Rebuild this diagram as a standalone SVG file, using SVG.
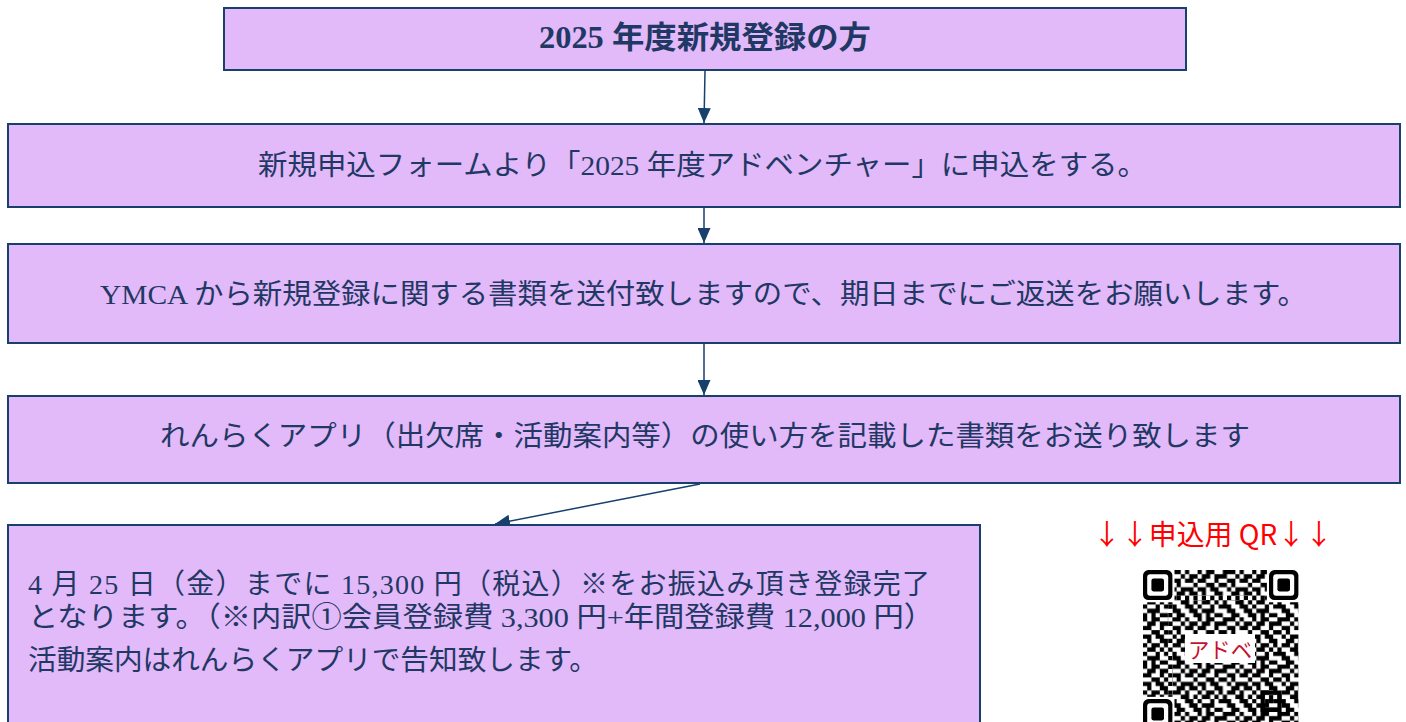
<svg xmlns="http://www.w3.org/2000/svg" width="1406" height="722" viewBox="0 0 1406 722">
<style>
.box{fill:#E2B9F9;stroke:#17406D;stroke-width:2}
.t{font-family:"Liberation Serif","Noto Sans CJK JP",serif;fill:#1F3864;font-size:28px}
.c{text-anchor:middle}
.con{stroke:#17406D;stroke-width:1.5;fill:none;marker-end:url(#ah)}
</style>
<defs>
<marker id="ah" markerUnits="userSpaceOnUse" markerWidth="15" markerHeight="13" refX="15" refY="6.5" orient="auto">
<path d="M0 0L15 6.5L0 13z" fill="#17406D"/>
</marker>
<pattern id="qrdata" patternUnits="userSpaceOnUse" width="13" height="11">
<path fill="#000" d="M0 0h1v1h-1z M2 0h2v1h-2z M6 0h3v1h-3z M10 0h1v1h-1z M1 1h2v1h-2z M4 1h3v1h-3z M9 1h1v1h-1z M11 1h2v1h-2z M0 2h2v1h-2z M4 2h1v1h-1z M7 2h2v1h-2z M10 2h2v1h-2z M2 3h2v1h-2z M5 3h2v1h-2z M8 3h1v1h-1z M12 3h1v1h-1z M0 4h2v1h-2z M3 4h2v1h-2z M7 4h1v1h-1z M9 4h3v1h-3z M1 5h1v1h-1z M4 5h2v1h-2z M8 5h2v1h-2z M11 5h2v1h-2z M0 6h1v1h-1z M2 6h2v1h-2z M5 6h1v1h-1z M7 6h2v1h-2z M10 6h1v1h-1z M1 7h2v1h-2z M4 7h1v1h-1z M6 7h1v1h-1z M9 7h2v1h-2z M12 7h1v1h-1z M0 8h1v1h-1z M3 8h1v1h-1z M5 8h3v1h-3z M10 8h2v1h-2z M1 9h3v1h-3z M7 9h2v1h-2z M11 9h2v1h-2z M0 10h1v1h-1z M2 10h1v1h-1z M4 10h2v1h-2z M8 10h2v1h-2z M12 10h1v1h-1z"/>
</pattern>
<g id="finder">
<rect x="-0.5" y="-0.5" width="8" height="8" fill="#fff"/>
<rect x="0" y="0" width="7" height="7" rx="1.3" fill="#000"/>
<rect x="1" y="1" width="5" height="5" rx="0.7" fill="#fff"/>
<rect x="2" y="2" width="3" height="3" rx="0.5" fill="#000"/>
</g>
</defs>

<g id="connectors">
<line class="con" x1="705" y1="71" x2="704" y2="123"/>
<line class="con" x1="704" y1="208" x2="704" y2="243"/>
<line class="con" x1="704" y1="344" x2="704" y2="395"/>
<line class="con" x1="700" y1="484" x2="495" y2="524"/>
</g>

<g id="n1">
<rect class="box" x="224" y="8" width="962" height="62"/>
<text class="t c" x="705" y="48" font-size="31" font-weight="bold" textLength="332" lengthAdjust="spacingAndGlyphs" style="font-size:31px">2025 年度新規登録の方</text>
</g>

<g id="n2">
<rect class="box" x="8" y="124" width="1392" height="83"/>
<text class="t" x="258" y="175" textLength="889" lengthAdjust="spacingAndGlyphs">新規申込フォームより「2025 年度アドベンチャー」に申込をする。</text>
</g>

<g id="n3">
<rect class="box" x="8" y="244" width="1392" height="99"/>
<text class="t" x="100" y="304" textLength="1207" lengthAdjust="spacingAndGlyphs">YMCA から新規登録に関する書類を送付致しますので、期日までにご返送をお願いします。</text>
</g>

<g id="n4">
<rect class="box" x="8" y="396" width="1392" height="87"/>
<text class="t" x="160" y="446" textLength="1090" lengthAdjust="spacingAndGlyphs">れんらくアプリ（出欠席・活動案内等）の使い方を記載した書類をお送り致します</text>
</g>

<g id="n5">
<rect class="box" x="8" y="525" width="972" height="210"/>
<text class="t" x="28" y="594" textLength="902" lengthAdjust="spacing">4 月 25 日（金）までに 15,300 円（税込）※をお振込み頂き登録完了</text>
<text class="t" x="28" y="627" textLength="906" lengthAdjust="spacingAndGlyphs">となります。（※内訳①会員登録費 3,300 円+年間登録費 12,000 円）</text>
<text class="t" x="28" y="670" textLength="570" lengthAdjust="spacingAndGlyphs">活動案内はれんらくアプリで告知致します。</text>
</g>

<g id="qr-title">
<text x="1213" y="545" text-anchor="middle" font-family="'Noto Sans CJK JP','Noto Sans',sans-serif" font-size="28" fill="#FF0000" textLength="240" lengthAdjust="spacingAndGlyphs">↓↓申込用 QR↓↓</text>
</g>

<g id="qr">
<g transform="translate(1143,570) scale(4.2,4.3)">
<rect width="37" height="37" fill="#fff"/>
<rect width="37" height="37" fill="url(#qrdata)"/>
<use href="#finder"/>
<use href="#finder" x="30"/>
<use href="#finder" y="30"/>
<path fill="#fff" d="M8 6h21v1h-21z M6 8h1v21h-1z"/>
<path fill="#000" d="M8 6h1v1h-1z M10 6h1v1h-1z M12 6h1v1h-1z M14 6h1v1h-1z M16 6h1v1h-1z M18 6h1v1h-1z M20 6h1v1h-1z M22 6h1v1h-1z M24 6h1v1h-1z M26 6h1v1h-1z M28 6h1v1h-1z M6 8h1v1h-1z M6 10h1v1h-1z M6 12h1v1h-1z M6 14h1v1h-1z M6 16h1v1h-1z M6 18h1v1h-1z M6 20h1v1h-1z M6 22h1v1h-1z M6 24h1v1h-1z M6 26h1v1h-1z M6 28h1v1h-1z"/>
<path fill="#000" fill-rule="evenodd" d="M28 28h5v5h-5z M29 29v3h3v-3z"/>
<rect x="30" y="30" width="1" height="1" fill="#000"/>
</g>
<rect x="1185" y="634" width="70" height="29" fill="#fff"/>
<text x="1220" y="658" text-anchor="middle" font-family="'Noto Sans CJK JP',sans-serif" font-size="22" fill="#C8102E" textLength="64" lengthAdjust="spacingAndGlyphs">アドベ</text>
</g>
</svg>
